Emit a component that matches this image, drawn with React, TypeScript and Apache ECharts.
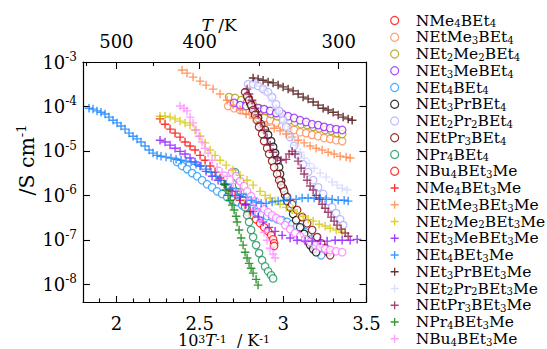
import React, { useEffect, useRef } from 'react';
import * as echarts from 'echarts';

const FONT = 'DejaVu Serif';

const LABELS = [
  'NMe4BEt4', 'NEtMe3BEt4', 'NEt2Me2BEt4', 'NEt3MeBEt4', 'NEt4BEt4',
  'NEt3PrBEt4', 'NEt2Pr2BEt4', 'NEtPr3BEt4', 'NPr4BEt4', 'NBu4BEt3Me',
  'NMe4BEt3Me', 'NEtMe3BEt3Me', 'NEt2Me2BEt3Me', 'NEt3MeBEt3Me', 'NEt4BEt3Me',
  'NEt3PrBEt3Me', 'NEt2Pr2BEt3Me', 'NEtPr3BEt3Me', 'NPr4BEt3Me', 'NBu4BEt3Me',
];
const COLORS = [
  '#ff0000', '#ff8a55', '#a89c00', '#8f22ff', '#1e96ff',
  '#000000', '#aaaaff', '#800000', '#14905a', '#ff77ff',
  '#ff0000', '#ff8040', '#d4c400', '#8a10ff', '#1080ff',
  '#400000', '#d4d4ff', '#8a1a50', '#008000', '#ff88ff',
];
const LEGEND_COLORS = COLORS.map((c, i) => (i === 9 ? '#ff0000' : c));

// x = 10^3/T (K^-1), y = log10(conductivity / S cm^-1)
const s01 = [[2.790,-6.38],[2.814,-6.45],[2.838,-6.54],[2.862,-6.63],[2.886,-6.72],[2.910,-6.81],[2.928,-6.90],[2.940,-6.99],[2.946,-7.08],[2.946,-7.14]];
const s02 = [[2.670,-3.99],[2.706,-4.04],[2.742,-4.08],[2.778,-4.10],[2.814,-4.15],[2.850,-4.22],[2.886,-4.26],[2.922,-4.31],[2.958,-4.37],[2.994,-4.44],[3.030,-4.49],[3.066,-4.53],[3.102,-4.58],[3.138,-4.60],[3.174,-4.64],[3.210,-4.67],[3.246,-4.71],[3.282,-4.73],[3.318,-4.76],[3.354,-4.78]];
const s03 = [[2.676,-3.79],[2.712,-3.81],[2.748,-3.86],[2.784,-3.90],[2.820,-3.97],[2.856,-4.04],[2.892,-4.10],[2.928,-4.17],[2.964,-4.22],[3.000,-4.26],[3.036,-4.31],[3.072,-4.35],[3.108,-4.40],[3.144,-4.42],[3.180,-4.46],[3.216,-4.49],[3.252,-4.53],[3.288,-4.55],[3.324,-4.60],[3.354,-4.62]];
const s04 = [[2.706,-3.92],[2.742,-3.97],[2.778,-3.99],[2.814,-4.01],[2.850,-4.04],[2.886,-4.06],[2.922,-4.10],[2.958,-4.15],[2.994,-4.17],[3.030,-4.22],[3.066,-4.26],[3.102,-4.31],[3.138,-4.35],[3.174,-4.40],[3.210,-4.42],[3.246,-4.46],[3.282,-4.49],[3.318,-4.51],[3.354,-4.53]];
const s05 = [[2.364,-5.25],[2.394,-5.34],[2.424,-5.41],[2.454,-5.50],[2.484,-5.57],[2.514,-5.66],[2.544,-5.75],[2.574,-5.82],[2.604,-5.91],[2.634,-5.97],[2.664,-6.04],[2.694,-6.11],[2.724,-6.15],[2.754,-6.22],[2.784,-6.27],[2.814,-6.31],[2.844,-6.38],[2.874,-6.42],[2.904,-6.47],[2.934,-6.49],[2.964,-6.54],[2.994,-6.56],[3.024,-6.60],[3.054,-6.65],[3.084,-6.69],[3.108,-6.76],[3.132,-6.83],[3.150,-6.90],[3.168,-6.99],[3.186,-7.08],[3.204,-7.17],[3.216,-7.26],[3.228,-7.35]];
const s06 = [[2.790,-3.81],[2.802,-3.92],[2.814,-4.01],[2.832,-4.13],[2.850,-4.26],[2.868,-4.40],[2.892,-4.53],[2.910,-4.64],[2.928,-4.78],[2.940,-4.91],[2.952,-5.05],[2.964,-5.21],[2.976,-5.37],[2.982,-5.52],[2.988,-5.68],[3.000,-5.84],[3.012,-6.00],[3.024,-6.13],[3.042,-6.27],[3.060,-6.42],[3.078,-6.56],[3.102,-6.72],[3.126,-6.87],[3.144,-7.01],[3.162,-7.12],[3.180,-7.21],[3.198,-7.28]];
const s07 = [[2.790,-3.50],[2.820,-3.50],[2.850,-3.54],[2.880,-3.61],[2.910,-3.68],[2.934,-3.79],[2.958,-3.95],[2.976,-4.10],[3.000,-4.31],[3.018,-4.46],[3.042,-4.69],[3.066,-4.89],[3.090,-5.10],[3.120,-5.30],[3.150,-5.48],[3.180,-5.66],[3.210,-5.82],[3.240,-5.97],[3.270,-6.13],[3.294,-6.27],[3.318,-6.40],[3.342,-6.54],[3.360,-6.67]];
const s08 = [[2.772,-3.68],[2.784,-3.77],[2.796,-3.86],[2.808,-3.97],[2.820,-4.08],[2.832,-4.19],[2.844,-4.31],[2.856,-4.46],[2.874,-4.62],[2.886,-4.78],[2.904,-4.94],[2.916,-5.07],[2.934,-5.23],[2.946,-5.37],[2.964,-5.52],[2.976,-5.66],[2.988,-5.77],[3.006,-5.91],[3.024,-6.04],[3.054,-6.20],[3.084,-6.33],[3.114,-6.49],[3.144,-6.63],[3.174,-6.78],[3.204,-6.94],[3.228,-7.08],[3.252,-7.19],[3.270,-7.28],[3.282,-7.35]];
const s09 = [[2.712,-5.48],[2.724,-5.61],[2.736,-5.77],[2.748,-5.93],[2.760,-6.11],[2.772,-6.27],[2.784,-6.45],[2.796,-6.60],[2.808,-6.78],[2.820,-6.94],[2.838,-7.12],[2.856,-7.30],[2.874,-7.46],[2.892,-7.60],[2.910,-7.71],[2.928,-7.80],[2.940,-7.87]];
const s10 = [[2.694,-5.48],[2.718,-5.57],[2.742,-5.68],[2.766,-5.79],[2.784,-5.91],[2.808,-6.02],[2.832,-6.13],[2.862,-6.22],[2.886,-6.31],[2.910,-6.38],[2.934,-6.45],[2.958,-6.51],[2.982,-6.56],[3.012,-6.67],[3.042,-6.76],[3.072,-6.85],[3.102,-6.92],[3.132,-6.99],[3.162,-7.05],[3.192,-7.12],[3.222,-7.17],[3.252,-7.21],[3.282,-7.23],[3.318,-7.26],[3.354,-7.28]];
const s11 = [[2.262,-4.28],[2.292,-4.40],[2.322,-4.51],[2.352,-4.60],[2.382,-4.69],[2.412,-4.80],[2.442,-4.89],[2.472,-4.98],[2.502,-5.10],[2.532,-5.21],[2.562,-5.34],[2.592,-5.48],[2.622,-5.61],[2.652,-5.75],[2.682,-5.88],[2.712,-6.00],[2.742,-6.11],[2.772,-6.22],[2.802,-6.36]];
const s12 = [[2.394,-3.18],[2.424,-3.25],[2.460,-3.34],[2.502,-3.43],[2.538,-3.52],[2.580,-3.61],[2.622,-3.72],[2.664,-3.86],[2.700,-3.97],[2.742,-4.08],[2.778,-4.17],[2.820,-4.26],[2.862,-4.35],[2.904,-4.42],[2.946,-4.49],[2.982,-4.55],[3.018,-4.62],[3.054,-4.69],[3.090,-4.76],[3.126,-4.82],[3.162,-4.89],[3.198,-4.94],[3.234,-4.98],[3.270,-5.03],[3.306,-5.07],[3.342,-5.12],[3.378,-5.14],[3.402,-5.16]];
const s13 = [[2.262,-4.22],[2.292,-4.22],[2.322,-4.24],[2.352,-4.28],[2.382,-4.33],[2.412,-4.37],[2.442,-4.42],[2.472,-4.53],[2.502,-4.67],[2.532,-4.82],[2.562,-4.98],[2.592,-5.10],[2.622,-5.21],[2.658,-5.32],[2.700,-5.43],[2.742,-5.55],[2.784,-5.66],[2.820,-5.77],[2.862,-5.91],[2.892,-6.00],[2.922,-6.06],[2.952,-6.13],[2.982,-6.20],[3.018,-6.27],[3.054,-6.33],[3.084,-6.40],[3.120,-6.47],[3.150,-6.54],[3.180,-6.58],[3.216,-6.65],[3.252,-6.69],[3.282,-6.74],[3.318,-6.78],[3.354,-6.83]];
const s14 = [[2.262,-4.76],[2.292,-4.80],[2.322,-4.87],[2.352,-4.94],[2.382,-5.01],[2.412,-5.07],[2.442,-5.16],[2.472,-5.25],[2.502,-5.34],[2.538,-5.46],[2.574,-5.57],[2.610,-5.66],[2.652,-5.77],[2.694,-5.91],[2.742,-6.04],[2.778,-6.20],[2.820,-6.36],[2.850,-6.49],[2.880,-6.60],[2.916,-6.72],[2.952,-6.81],[2.994,-6.90],[3.042,-6.96],[3.084,-7.01],[3.132,-7.03],[3.174,-7.03],[3.222,-7.03],[3.264,-7.03],[3.312,-7.01],[3.354,-7.01],[3.402,-7.01],[3.444,-6.99]];
const s15 = [[1.836,-4.04],[1.860,-4.06],[1.884,-4.10],[1.908,-4.13],[1.932,-4.17],[1.956,-4.24],[1.980,-4.31],[2.004,-4.37],[2.028,-4.44],[2.052,-4.51],[2.076,-4.60],[2.100,-4.67],[2.124,-4.73],[2.148,-4.80],[2.172,-4.89],[2.196,-4.98],[2.220,-5.05],[2.244,-5.10],[2.268,-5.12],[2.298,-5.14],[2.328,-5.16],[2.358,-5.19],[2.388,-5.21],[2.418,-5.23],[2.448,-5.25],[2.478,-5.30],[2.508,-5.34],[2.538,-5.41],[2.568,-5.48],[2.598,-5.57],[2.628,-5.66],[2.658,-5.75],[2.688,-5.84],[2.718,-5.91],[2.748,-5.97],[2.778,-6.04],[2.808,-6.11],[2.838,-6.15],[2.868,-6.18],[2.898,-6.18],[2.934,-6.15],[2.970,-6.13],[3.006,-6.11],[3.042,-6.09],[3.078,-6.09],[3.114,-6.06],[3.150,-6.06],[3.186,-6.06],[3.222,-6.06],[3.258,-6.09],[3.294,-6.09],[3.330,-6.11],[3.366,-6.11],[3.390,-6.13]];
const s16 = [[2.820,-3.36],[2.850,-3.38],[2.880,-3.41],[2.910,-3.45],[2.940,-3.47],[2.970,-3.52],[3.000,-3.56],[3.030,-3.61],[3.060,-3.65],[3.090,-3.72],[3.120,-3.79],[3.150,-3.83],[3.180,-3.90],[3.210,-3.97],[3.240,-4.04],[3.270,-4.08],[3.300,-4.13],[3.330,-4.19],[3.360,-4.24],[3.390,-4.28],[3.414,-4.31]];
const s17 = [[2.838,-3.45],[2.862,-3.54],[2.886,-3.65],[2.910,-3.74],[2.934,-3.88],[2.958,-4.04],[2.982,-4.19],[3.006,-4.37],[3.030,-4.53],[3.054,-4.71],[3.078,-4.87],[3.102,-5.03],[3.126,-5.16],[3.156,-5.28],[3.186,-5.39],[3.222,-5.50],[3.258,-5.59],[3.294,-5.70],[3.324,-5.77],[3.354,-5.84],[3.384,-5.88]];
const s18 = [[2.784,-3.61],[2.796,-3.72],[2.814,-3.86],[2.832,-4.04],[2.850,-4.19],[2.868,-4.37],[2.886,-4.53],[2.904,-4.71],[2.922,-4.87],[2.940,-5.03],[2.964,-5.16],[2.988,-5.21],[3.018,-5.19],[3.036,-5.07],[3.054,-5.01],[3.072,-5.07],[3.090,-5.23],[3.108,-5.39],[3.126,-5.52],[3.144,-5.66],[3.162,-5.79],[3.180,-5.88],[3.198,-6.00],[3.216,-6.09],[3.234,-6.20],[3.252,-6.29],[3.270,-6.38],[3.288,-6.49],[3.306,-6.58],[3.324,-6.67],[3.348,-6.76],[3.372,-6.85],[3.390,-6.92]];
const s19 = [[2.646,-5.75],[2.658,-5.88],[2.670,-6.00],[2.682,-6.11],[2.694,-6.22],[2.706,-6.33],[2.718,-6.47],[2.724,-6.60],[2.736,-6.78],[2.748,-6.96],[2.760,-7.12],[2.772,-7.28],[2.784,-7.41],[2.796,-7.53],[2.808,-7.64],[2.820,-7.75],[2.838,-7.89],[2.850,-8.02]];
const s20 = [[2.382,-3.99],[2.406,-4.04],[2.424,-4.10],[2.442,-4.24],[2.460,-4.37],[2.478,-4.53],[2.496,-4.67],[2.514,-4.80],[2.532,-4.94],[2.550,-5.05],[2.574,-5.21],[2.604,-5.37],[2.634,-5.48],[2.664,-5.57],[2.700,-5.73],[2.742,-5.88],[2.784,-6.09],[2.832,-6.33],[2.862,-6.58],[2.886,-6.83],[2.904,-7.01],[2.922,-7.19],[2.940,-7.32],[2.952,-7.41]];

const SERIES_DATA = [s01, s02, s03, s04, s05, s06, s07, s08, s09, s10, s11, s12, s13, s14, s15, s16, s17, s18, s19, s20];

const X_MIN = 1.8;
const X_MAX = 3.5;
const Y_MIN_EXP = -8.4;
const Y_MAX_EXP = -3;
const X_MAJOR = [2, 2.5, 3, 3.5];
const X_MINOR = [1.9, 2.1, 2.2, 2.3, 2.4, 2.6, 2.7, 2.8, 2.9, 3.1, 3.2, 3.3, 3.4];
const T_MAJOR = [500, 400, 300];
const T_MINOR = [550, 450, 350];
const Y_EXPS = [-8, -7, -6, -5, -4, -3];

const PLUS = 'path://M0,5L10,5M5,0L5,10';

function sub(label: string): string {
  return label.replace(/(\D+)|(\d+)/g, (_m, a, b) => (a ? `{n|${a}}` : `{s|${b}}`));
}

export default function App() {
  const ref = useRef<HTMLDivElement>(null);
  useEffect(() => {
    if (!ref.current) return;
    const chart = echarts.init(ref.current, undefined, { renderer: 'svg' });
    const names = LABELS.map((_, i) => `s${i + 1}`);
    const axisLine = { show: true, onZero: false, lineStyle: { color: '#000', width: 1.2 } };
    const series = SERIES_DATA.map((d, i) => {
      const circle = i < 10;
      return {
        type: 'scatter',
        name: names[i],
        xAxisIndex: 0,
        yAxisIndex: 0,
        symbol: circle ? 'circle' : PLUS,
        symbolSize: circle ? 7.5 : 8.5,
        itemStyle: circle
          ? { color: '#ffffff', borderColor: COLORS[i], borderWidth: 1.2 }
          : { color: COLORS[i], borderColor: COLORS[i], borderWidth: 1.4 },
        data: d.map(([x, e]) => [x, Math.pow(10, e)]),
        silent: true,
      };
    });
    const tickStyle = { color: '#000', width: 1.1 };
    chart.setOption({
      animation: false,
      backgroundColor: '#ffffff',
      grid: { left: 83, right: 180.5, top: 62, bottom: 47, containLabel: false },
      xAxis: [
        {
          type: 'value', position: 'bottom', min: X_MIN, max: X_MAX,
          axisLine,
          axisTick: { show: true, inside: true, length: 6, customValues: X_MAJOR, lineStyle: tickStyle },
          axisLabel: {
            show: true, customValues: X_MAJOR, margin: 14,
            formatter: (v: number) => String(v),
            fontFamily: FONT, fontSize: 18, color: '#000', lineHeight: 14,
          },
          splitLine: { show: false },
        },
        {
          type: 'value', position: 'top', min: X_MIN, max: X_MAX,
          axisLine,
          axisTick: { show: true, inside: true, length: 7, customValues: T_MAJOR.map((t) => 1000 / t), lineStyle: tickStyle },
          axisLabel: {
            show: true, customValues: T_MAJOR.map((t) => 1000 / t), margin: 14,
            formatter: (v: number) => String(Math.round(1000 / v)),
            fontFamily: FONT, fontSize: 18, color: '#000', lineHeight: 14,
          },
          splitLine: { show: false },
        },
        {
          type: 'value', position: 'top', min: X_MIN, max: X_MAX,
          axisLine: { show: false },
          axisTick: { show: true, inside: true, length: 4, customValues: T_MINOR.map((t) => 1000 / t), lineStyle: tickStyle },
          axisLabel: { show: false },
          splitLine: { show: false },
        },
        {
          type: 'value', position: 'bottom', min: X_MIN, max: X_MAX,
          axisLine: { show: false },
          axisTick: { show: true, inside: true, length: 3.5, customValues: X_MINOR, lineStyle: tickStyle },
          axisLabel: { show: false },
          splitLine: { show: false },
        },
      ],
      yAxis: [
        {
          type: 'log', logBase: 10, position: 'left',
          min: Math.pow(10, Y_MIN_EXP), max: Math.pow(10, Y_MAX_EXP),
          axisLine,
          axisTick: { show: true, inside: true, length: 7, customValues: Y_EXPS.map((e) => Math.pow(10, e)), lineStyle: tickStyle },
          axisLabel: {
            show: true, customValues: Y_EXPS.map((e) => Math.pow(10, e)), margin: 6,
            formatter: (v: number) => `{b|10}{p|${Math.round(Math.log10(v))}}`,
            rich: {
              b: { fontFamily: FONT, fontSize: 18, color: '#000', lineHeight: 22 },
              p: { fontFamily: FONT, fontSize: 12, color: '#000', verticalAlign: 'top' },
            },
          },
          splitLine: { show: false },
          minorTick: { show: false },
        },
        {
          type: 'log', logBase: 10, position: 'right',
          min: Math.pow(10, Y_MIN_EXP), max: Math.pow(10, Y_MAX_EXP),
          axisLine,
          axisTick: { show: true, inside: true, length: 7, customValues: Y_EXPS.map((e) => Math.pow(10, e)), lineStyle: tickStyle },
          axisLabel: { show: false },
          splitLine: { show: false },
        },
      ],
      legend: {
        orient: 'vertical', left: 390, top: 12.5, height: 400, padding: 0,
        itemWidth: 32, itemHeight: 8, itemGap: 0.35,
        selectedMode: false,
        data: names.map((n, i) => ({
          name: n,
          itemStyle: i < 10
            ? { color: '#ffffff', borderColor: LEGEND_COLORS[i], borderWidth: 1.2 }
            : { color: LEGEND_COLORS[i], borderColor: LEGEND_COLORS[i], borderWidth: 1.3 },
        })),
        formatter: (name: string) => sub(LABELS[Number(name.slice(1)) - 1]),
        textStyle: {
          color: '#000',
          rich: {
            n: { fontFamily: FONT, fontSize: 15.5, color: '#000', lineHeight: 16.8 },
            s: { fontFamily: FONT, fontSize: 10.2, color: '#000', verticalAlign: 'bottom' },
          },
        },
      },
      graphic: [
        {
          type: 'text', x: 219, y: 25,
          style: {
            text: '{i|T}{n| /K}', align: 'center', verticalAlign: 'middle',
            rich: {
              i: { fontFamily: FONT, fontSize: 17, fontStyle: 'italic', fill: '#000', lineHeight: 12 },
              n: { fontFamily: FONT, fontSize: 17, fill: '#000', lineHeight: 12 },
            },
          },
        },
        {
          type: 'text', x: 224, y: 340.5,
          style: {
            text: '{n|10}{p|3}{i|T}{p|-1}{n|  / K}{p|-1}', align: 'center', verticalAlign: 'middle',
            rich: {
              n: { fontFamily: FONT, fontSize: 16, fill: '#000', lineHeight: 14 },
              i: { fontFamily: FONT, fontSize: 16, fontStyle: 'italic', fill: '#000', lineHeight: 14 },
              p: { fontFamily: FONT, fontSize: 11, fill: '#000', verticalAlign: 'top' },
            },
          },
        },
        {
          type: 'text', x: 27, y: 160, rotation: Math.PI / 2,
          style: {
            text: '{n|/S cm}{p|-1}', align: 'center', verticalAlign: 'middle',
            rich: {
              n: { fontFamily: FONT, fontSize: 20.5, fill: '#000', lineHeight: 24 },
              p: { fontFamily: FONT, fontSize: 13, fill: '#000', verticalAlign: 'top' },
            },
          },
        },
      ],
      series,
    });
    return () => chart.dispose();
  }, []);
  return (
    <div
      ref={ref}
      style={{ position: 'fixed', left: 0, top: 0, width: 547, height: 349, background: '#fff' }}
    />
  );
}
